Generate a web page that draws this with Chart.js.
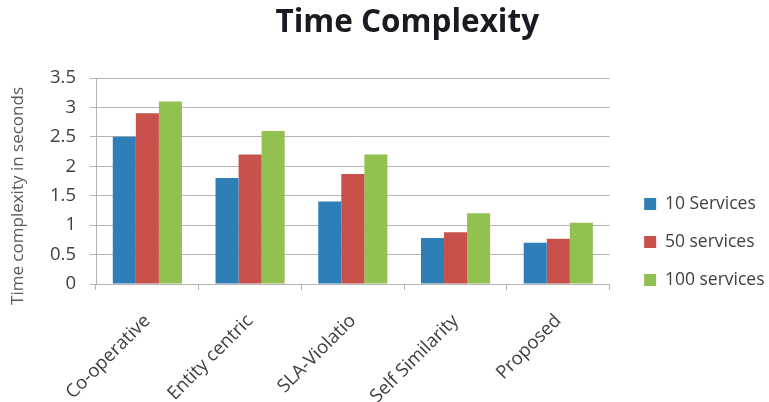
<!DOCTYPE html>
<html>
<head>
<meta charset="utf-8">
<script src="https://cdn.jsdelivr.net/npm/chart.js@4.4.1/dist/chart.umd.min.js"></script>
<style>
  html, body { margin: 0; padding: 0; background: #ffffff; }
  #wrap { width: 769px; height: 402px; }
</style>
</head>
<body>
<div id="wrap"><canvas id="chart" width="769" height="402"></canvas></div>
<script>
// Approaches compared, with the measured run time for each service count
const categories = ['Co-operative', 'Entity centric', 'SLA-Violatio', 'Self Similarity', 'Proposed'];
const services10 = [2.5, 1.8, 1.4, 0.78, 0.7];
const services50 = [2.9, 2.2, 1.87, 0.88, 0.77];
const services100 = [3.1, 2.6, 2.2, 1.2, 1.04];
const seriesNames = ['10 Services', '50 services', '100 services'];
const seriesColors = ['#2e7fb8', '#c9514c', '#92c051'];
const yTicks = [0, 0.5, 1, 1.5, 2, 2.5, 3, 3.5];

const FONT = '"Open Sans", "DejaVu Sans", sans-serif';
const TEXT = '#404040';
const GRID = '#b4b4b4';

const seriesValues = [services10, services50, services100];

// Nudges the title, legend and y-axis title after Chart.js has laid them out
const boxOffsets = {
  id: 'boxOffsets',
  afterLayout(chart) {
    const t = chart.titleBlock;
    if (t) { t.left += 25; t.right += 25; }
    const lg = chart.legend;
    if (lg) { lg.left += 14; lg.right += 14; lg.top += 41; lg.bottom += 41; }
    const ys = chart.scales.y;
    if (ys && !ys._titleShifted) {
      const drawTitle = ys.drawTitle;
      ys.drawTitle = function () {
        this.top += 15; this.bottom += 15;
        drawTitle.call(this);
        this.top -= 15; this.bottom -= 15;
      };
      ys._titleShifted = true;
    }
  }
};

new Chart(document.getElementById('chart'), {
  type: 'bar',
  data: {
    labels: categories,
    datasets: seriesValues.map((vals, i) => ({
      label: seriesNames[i],
      data: vals,
      backgroundColor: seriesColors[i],
      borderWidth: 0,
      categoryPercentage: 0.673,
      barPercentage: 1.0
    }))
  },
  plugins: [boxOffsets],
  options: {
    responsive: false,
    devicePixelRatio: 1,
    animation: false,
    layout: { padding: { left: 4, right: 8.5, top: 0, bottom: 0 } },
    plugins: {
      tooltip: { enabled: false },
      title: {
        display: true,
        text: 'Time Complexity',
        color: '#1a1a22',
        font: { family: FONT, size: 31.5, weight: 'bold' },
        padding: { top: 4, bottom: 36.2 }
      },
      legend: {
        position: 'right',
        align: 'center',
        labels: {
          boxWidth: 12,
          boxHeight: 12,
          padding: 20.5,
          color: TEXT,
          font: { family: FONT, size: 17.5 }
        }
      }
    },
    scales: {
      x: {
        afterFit: (s) => { s.height = 118; },
        grid: { drawOnChartArea: false, drawTicks: true, tickLength: 6, color: GRID },
        border: { color: GRID },
        ticks: {
          minRotation: 45,
          maxRotation: 45,
          padding: 20,
          color: TEXT,
          font: { family: FONT, size: 18.5 }
        }
      },
      y: {
        min: yTicks[0],
        max: yTicks[yTicks.length - 1],
        afterBuildTicks: (axis) => { axis.ticks = yTicks.map(v => ({ value: v })); },
        afterFit: (s) => { s.width = 92; },
        grid: { color: GRID, tickLength: 6 },
        border: { color: GRID },
        ticks: {
          padding: 14,
          color: TEXT,
          font: { family: FONT, size: 18.5 },
          callback: (v) => String(v)
        },
        title: {
          display: true,
          text: 'Time complexity in seconds',
          color: '#595959',
          font: { family: FONT, size: 17 },
          padding: { top: 4, bottom: 4 }
        }
      }
    }
  }
});
</script>
</body>
</html>
